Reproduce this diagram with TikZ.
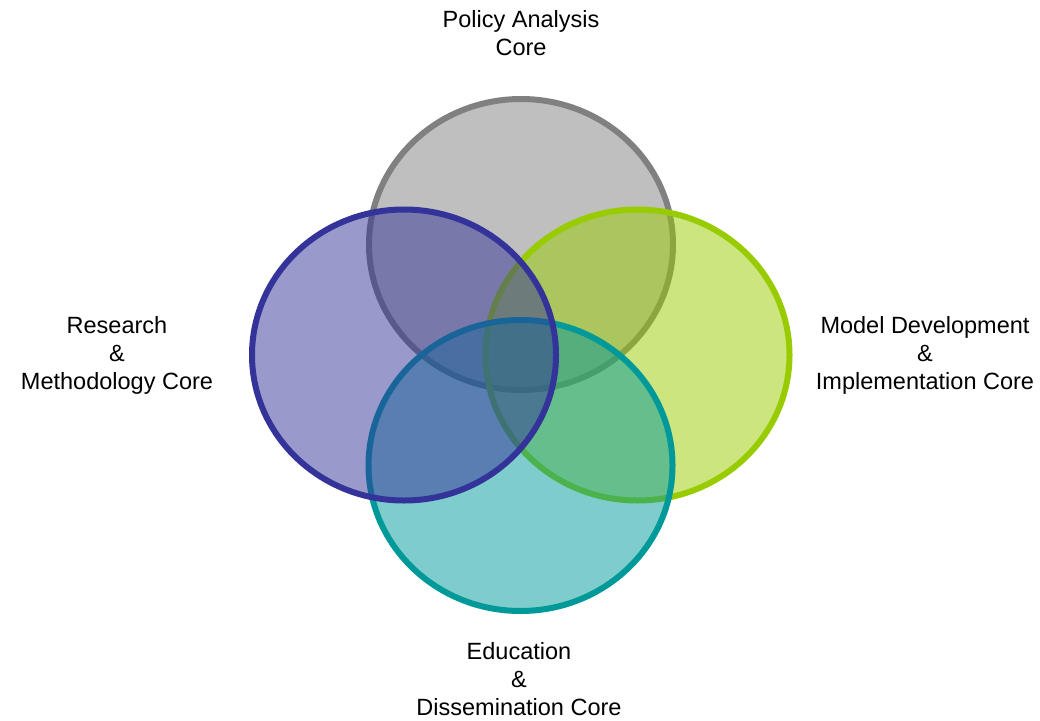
\documentclass[tikz,border=0pt]{standalone}
\usepackage{fontspec}
\setmainfont{Liberation Sans}
\begin{document}
\begin{tikzpicture}[x=1pt,y=-1pt,
  core/.style={line width=6pt, draw=#1, fill=#1, fill opacity=0.5, draw opacity=1},
  lbl/.style={align=center, font=\fontsize{23.5}{28}\selectfont, inner sep=0pt}]
\useasboundingbox (0,0) rectangle (1040,720);
\definecolor{cgray}{HTML}{808080}
\definecolor{cpurple}{HTML}{333399}
\definecolor{cgreen}{HTML}{99CC00}
\definecolor{cteal}{HTML}{009999}
\path[core=cgray] (521,244.5) ellipse [x radius=152, y radius=145.5];
\path[core=cgreen] (637.5,355) ellipse [x radius=152, y radius=145.5];
\path[core=cteal] (520.5,465.5) ellipse [x radius=152, y radius=145.5];
\path[core=cpurple] (404,355) ellipse [x radius=152, y radius=145.5];
\node[lbl] (policy) at (521,33) {Policy Analysis\\Core};
\node[lbl] (research) at (117,355) {Research\\\&\\Methodology Core};
\node[lbl] (model) at (925,355) {Model Development\\\&\\Implementation Core};
\node[lbl] (edu) at (519,679) {Education\\\&\\Dissemination Core};
\end{tikzpicture}
\end{document}
